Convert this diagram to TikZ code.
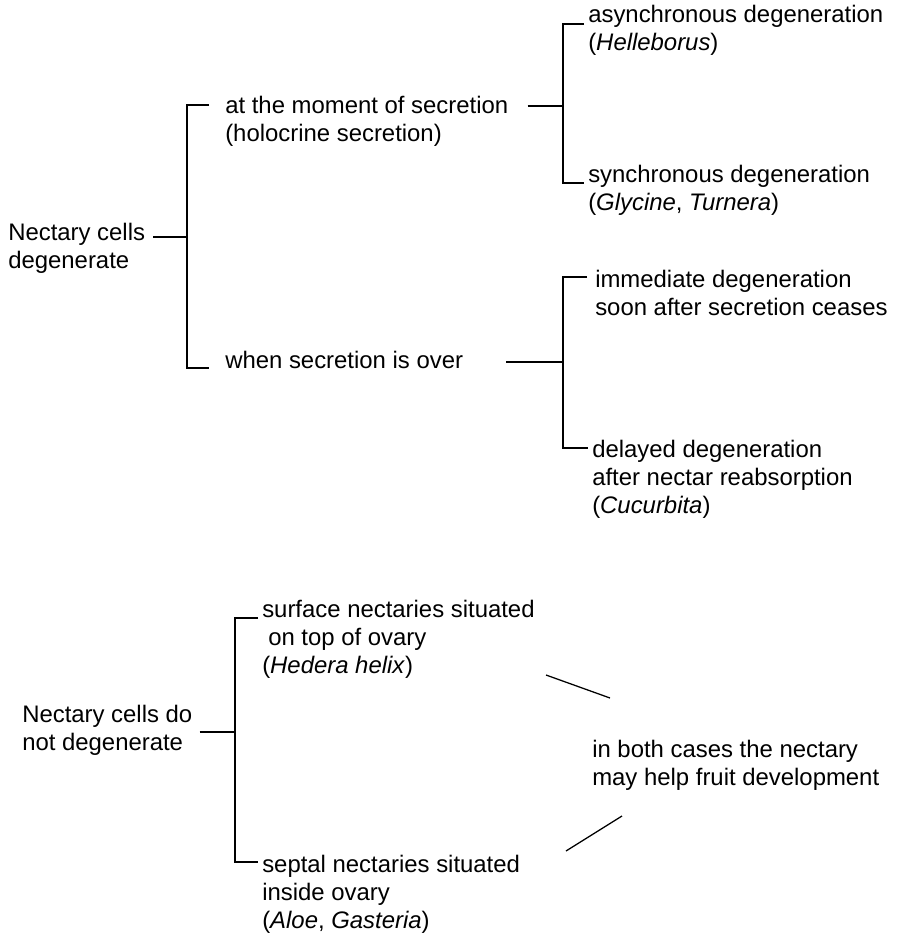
\documentclass[tikz,border=0pt]{standalone}
\usepackage{fontspec}
\setmainfont{Liberation Sans}
\usepackage{tikz}
\usetikzlibrary{calc}

\begin{document}
\begin{tikzpicture}[
      entry/.style={font=\fontsize{17}{20}\selectfont,align=left,inner sep=0.1cm,anchor=base west},
      bracket/.style={draw=black,line width=0.9pt}
    ]
    \useasboundingbox (0, 0) rectangle (22.475, -23.4);

    % cells degenerate (nodes sit on the baseline of their last line)
    \node[entry] (root1) at (0.1, -6.703) {Nectary cells\\degenerate};
    \node[entry] (moment) at (5.525, -3.528) {at the moment of secretion\\(holocrine secretion)};
    \node[entry] (over) at (5.525, -9.2) {when secretion is over};
    \node[entry] (async) at (14.6, -1.253) {asynchronous degeneration\\(\textit{Helleborus})};
    \node[entry] (sync) at (14.6, -5.253) {synchronous degeneration\\(\textit{Glycine}, \textit{Turnera})};
    \node[entry] (immed) at (14.775, -7.878) {immediate degeneration\\soon after secretion ceases};
    \node[entry] (delayed) at (14.7, -12.831) {delayed degeneration\\after nectar reabsorption\\(\textit{Cucurbita})};

    \coordinate (j1) at (4.675, -5.925);
    \coordinate (b1t) at (4.675, -2.625);
    \coordinate (b1b) at (4.675, -9.2);
    \coordinate (j2) at (14.075, -2.65);
    \coordinate (b2t) at (14.075, -0.6);
    \coordinate (b2b) at (14.075, -4.575);
    \coordinate (j3) at (14.075, -9.05);
    \coordinate (b3t) at (14.075, -6.925);
    \coordinate (b3b) at (14.075, -11.2);

    \draw[bracket, shorten <=0.1cm] (root1.east |- j1) -- (j1);
    \draw[bracket, shorten <=0.3cm, shorten >=0.3cm] (moment.west |- b1t) -- (b1t) -- (b1b) -- (over.west |- b1b);

    \draw[bracket, shorten <=0.375cm] (moment.east |- j2) -- (j2);
    \draw[bracket] (async.west |- b2t) -- (b2t) -- (b2b) -- (sync.west |- b2b);

    \draw[bracket, shorten <=0.975cm] (over.east |- j3) -- (j3);
    \draw[bracket, shorten <=0.1cm] (immed.west |- b3t) -- (b3t) -- (b3b) -- (delayed.west |- b3b);

    % cells do not degenerate
    \node[entry] (root2) at (0.45, -18.753) {Nectary cells do\\not degenerate};
    \node[entry] (surf) at (6.45, -16.831) {surface nectaries situated\\\hspace*{0.25em}on top of ovary\\(\textit{Hedera helix})};
    \node[entry] (sept) at (6.45, -23.206) {septal nectaries situated\\inside ovary\\(\textit{Aloe}, \textit{Gasteria})};
    \node[entry] (both) at (14.7, -19.628) {in both cases the nectary\\may help fruit development};

    \coordinate (j4) at (5.875, -18.3);
    \coordinate (b4t) at (5.875, -15.45);
    \coordinate (b4b) at (5.875, -21.55);

    \draw[bracket, shorten <=0.075cm] (root2.east |- j4) -- (j4);
    \draw[bracket] (surf.west |- b4t) -- (b4t) -- (b4b) -- (sept.west |- b4b);

    \coordinate (d1a) at (13.65, -16.875);
    \coordinate (d1b) at (15.25, -17.45);
    \coordinate (d2a) at (14.15, -21.275);
    \coordinate (d2b) at (15.55, -20.4);
    \draw[bracket] (d1a) -- (d1b);
    \draw[bracket] (d2a) -- (d2b);
  \end{tikzpicture}
\end{document}
